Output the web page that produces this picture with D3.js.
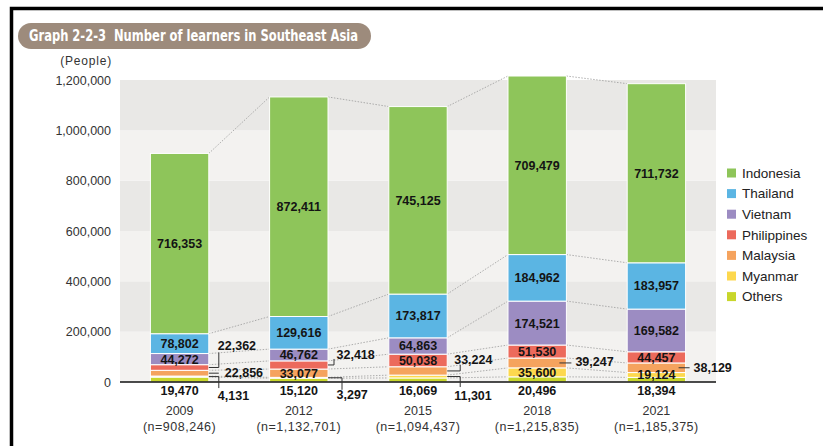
<!DOCTYPE html>
<html>
<head>
<meta charset="utf-8">
<script src="https://cdn.jsdelivr.net/npm/d3@7/dist/d3.min.js"></script>
<style>
  body { margin: 0; background: #fff; }
  svg { display: block; font-family: "Liberation Sans", Arial, sans-serif; }
</style>
</head>
<body>
<div id="chart"></div>
<script>
// Number of learners in Southeast Asia, stacked by country

const years = ["2009", "2012", "2015", "2018", "2021"];
const totals = [908246, 1132701, 1094437, 1215835, 1185375];

// stacking order, bottom to top
const series = ["Others", "Myanmar", "Malaysia", "Philippines", "Vietnam", "Thailand", "Indonesia"];
const legendOrder = ["Indonesia", "Thailand", "Vietnam", "Philippines", "Malaysia", "Myanmar", "Others"];

const indonesia   = [716353, 872411, 745125, 709479, 711732];
const thailand    = [78802, 129616, 173817, 184962, 183957];
const vietnam     = [44272, 46762, 64863, 174521, 169582];
const philippines = [22362, 32418, 50038, 51530, 44457];
const malaysia    = [22856, 33077, 33224, 39247, 38129];
const myanmar     = [4131, 3297, 11301, 35600, 19124];
const others      = [19470, 15120, 16069, 20496, 18394];

const yTicks = [0, 200000, 400000, 600000, 800000, 1000000, 1200000];

const colors = {
  Indonesia: "#8ec55a",
  Thailand: "#5bb5e3",
  Vietnam: "#9c8cc2",
  Philippines: "#ec6a5c",
  Malaysia: "#f5a35e",
  Myanmar: "#fdd84e",
  Others: "#c8d62b"
};

// labels that sit outside the bar (offsets from bar right edge / segment middle)
const outside = {
  "2009|Philippines": { type: "elbow", ex: 10, ey: -15, tx: 9, ty: -21.5 },
  "2009|Malaysia":    { type: "dash", x0: 0, x1: 10, tx: 16, ty: -1 },
  "2009|Myanmar":     { type: "elbow", ex: 10, ey: 11.5, tx: 9, ty: 18.5 },
  "2012|Philippines": { type: "elbow", ex: 6, ey: -6, tx: 8.5, ty: -10 },
  "2012|Myanmar":     { type: "elbow", ex: 14, ey: 12, tx: 8.5, ty: 17 },
  "2015|Malaysia":    { type: "elbow", ex: 13, ey: -6, tx: 7, ty: -11 },
  "2015|Myanmar":     { type: "elbow", ex: 13, ey: 10.5, tx: 7, ty: 18.5 },
  "2018|Malaysia":    { type: "dash", x0: -7, x1: 5, tx: 9, ty: -1 },
  "2021|Malaysia":    { type: "dash", x0: -7, x1: 4, tx: 8, ty: 0 }
};

const width = 823, height = 446;
const plot = { left: 120, right: 716, top: 80, bottom: 382 };

const rows = years.map((yr, i) => ({
  year: yr,
  total: totals[i],
  Indonesia: indonesia[i],
  Thailand: thailand[i],
  Vietnam: vietnam[i],
  Philippines: philippines[i],
  Malaysia: malaysia[i],
  Myanmar: myanmar[i],
  Others: others[i]
}));

const stacked = d3.stack().keys(series)(rows);

const svg = d3.select("#chart").append("svg")
  .attr("width", width)
  .attr("height", height);

// frame
svg.append("path")
  .attr("d", `M11.5,${height} V8.5 H${width}`)
  .attr("fill", "none")
  .attr("stroke", "#000")
  .attr("stroke-width", 3.5);

// title pill
svg.append("rect")
  .attr("x", 18).attr("y", 23)
  .attr("width", 353).attr("height", 26)
  .attr("rx", 13)
  .attr("fill", "#9d8b7c");

svg.append("text")
  .attr("x", 29).attr("y", 36)
  .attr("dy", "0.36em")
  .attr("fill", "#fff")
  .style("font-family", "'Liberation Sans Narrow', 'DejaVu Sans Condensed', 'Liberation Sans', sans-serif")
  .style("font-weight", "bold")
  .style("font-size", "15px")
  .attr("textLength", 329)
  .attr("lengthAdjust", "spacingAndGlyphs")
  .attr("xml:space", "preserve")
  .text("Graph 2-2-3  Number of learners in Southeast Asia");

// scales
const x = d3.scaleBand()
  .domain(years)
  .range([plot.left, plot.right])
  .paddingInner(0.51)
  .paddingOuter(0.255);

const y = d3.scaleLinear()
  .domain([0, 1200000])
  .range([plot.bottom, plot.top]);

// alternating background bands
const bands = d3.pairs(yTicks);
svg.append("g")
  .selectAll("rect")
  .data(bands)
  .join("rect")
    .attr("x", plot.left)
    .attr("width", plot.right - plot.left)
    .attr("y", d => y(d[1]))
    .attr("height", d => y(d[0]) - y(d[1]))
    .attr("fill", (d, i) => i % 2 === 0 ? "#f3f2f0" : "#e9e8e6");

// y axis
svg.append("g")
  .attr("transform", `translate(${plot.left},0)`)
  .call(d3.axisLeft(y).tickValues(yTicks).tickFormat(d3.format(",")).tickSize(0).tickPadding(9))
  .call(g => g.select(".domain").remove())
  .call(g => g.selectAll("text")
    .attr("fill", "#333")
    .style("font-family", "'Liberation Sans', Arial, sans-serif")
    .style("font-size", "12.5px"));

svg.append("text")
  .attr("x", 112).attr("y", 61)
  .attr("dy", "0.36em")
  .attr("text-anchor", "end")
  .attr("fill", "#333")
  .style("font-size", "12px")
  .style("letter-spacing", "0.8px")
  .text("(People)");

// dotted connectors between bars
const connectors = svg.append("g")
  .attr("fill", "none")
  .attr("stroke", "#9a9a9a")
  .attr("stroke-width", 0.8)
  .attr("stroke-dasharray", "1.5,1.5");

stacked.forEach(layer => {
  d3.pairs(layer).forEach(([a, b]) => {
    connectors.append("line")
      .attr("x1", x(a.data.year) + x.bandwidth())
      .attr("y1", y(a[1]))
      .attr("x2", x(b.data.year))
      .attr("y2", y(b[1]));
  });
});

// bars
const layers = svg.append("g")
  .selectAll("g")
  .data(stacked)
  .join("g")
    .attr("fill", d => colors[d.key]);

layers.selectAll("rect")
  .data(d => d)
  .join("rect")
    .attr("x", d => x(d.data.year))
    .attr("width", x.bandwidth())
    .attr("y", d => y(d[1]))
    .attr("height", d => y(d[0]) - y(d[1]))
    .attr("stroke", "#fff")
    .attr("stroke-width", 1);

// baseline
svg.append("line")
  .attr("x1", plot.left).attr("x2", plot.right)
  .attr("y1", y(0)).attr("y2", y(0))
  .attr("stroke", "#111")
  .attr("stroke-width", 1.3);

// value labels
const fmt = d3.format(",");
const labels = svg.append("g")
  .attr("fill", "#141414")
  .style("font-size", "12.5px")
  .style("font-weight", "bold");
const leaders = svg.append("g")
  .attr("fill", "none")
  .attr("stroke", "#333")
  .attr("stroke-width", 1);

stacked.forEach(layer => {
  layer.forEach(d => {
    const yr = d.data.year;
    const value = d.data[layer.key];
    const cx = x(yr) + x.bandwidth() / 2;
    const right = x(yr) + x.bandwidth();
    const mid = (y(d[0]) + y(d[1])) / 2;
    const spec = outside[yr + "|" + layer.key];

    if (layer.key === "Others") {
      labels.append("text")
        .attr("x", cx).attr("y", y(0) + 8)
        .attr("dy", "0.36em")
        .attr("text-anchor", "middle")
        .text(fmt(value));
    } else if (spec) {
      if (spec.type === "elbow") {
        leaders.append("path")
          .attr("d", `M${right},${mid} H${right + spec.ex} V${mid + spec.ey}`);
      } else {
        leaders.append("line")
          .attr("x1", right + spec.x0).attr("x2", right + spec.x1)
          .attr("y1", mid).attr("y2", mid);
      }
      labels.append("text")
        .attr("x", right + spec.tx).attr("y", mid + spec.ty)
        .attr("dy", "0.36em")
        .text(fmt(value));
    } else {
      labels.append("text")
        .attr("x", cx).attr("y", mid)
        .attr("dy", "0.36em")
        .attr("text-anchor", "middle")
        .text(fmt(value));
    }
  });
});

// x labels: year and total
const xLab = svg.append("g")
  .attr("fill", "#333")
  .style("font-size", "12.5px");

rows.forEach(r => {
  const cx = x(r.year) + x.bandwidth() / 2;
  xLab.append("text")
    .attr("x", cx).attr("y", 410)
    .attr("dy", "0.36em")
    .attr("text-anchor", "middle")
    .text(r.year);
  xLab.append("text")
    .attr("x", cx).attr("y", 426)
    .attr("dy", "0.36em")
    .attr("text-anchor", "middle")
    .style("letter-spacing", "0.5px")
    .text(`(n=${fmt(r.total)})`);
});

// legend
const legend = svg.append("g")
  .attr("transform", "translate(727,173)");

const item = legend.selectAll("g")
  .data(legendOrder)
  .join("g")
    .attr("transform", (d, i) => `translate(0,${i * 20.6})`);

item.append("rect")
  .attr("x", 0).attr("y", -4.5)
  .attr("width", 9).attr("height", 9)
  .attr("fill", d => colors[d]);

item.append("text")
  .attr("x", 15)
  .attr("dy", "0.36em")
  .attr("fill", "#222")
  .style("font-size", "13.5px")
  .text(d => d);
</script>
</body>
</html>
